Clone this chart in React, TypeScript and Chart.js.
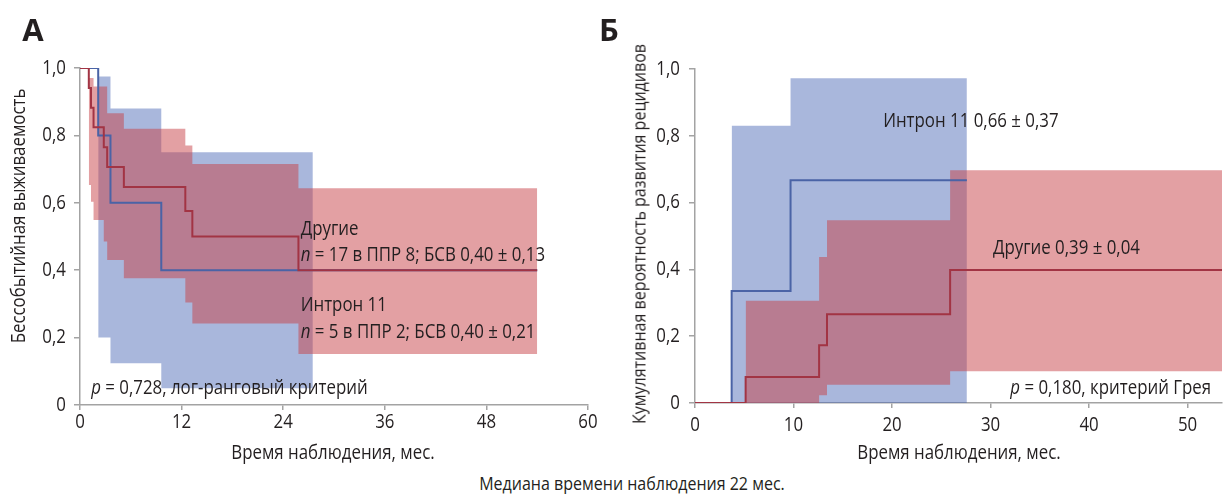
import React, { useEffect, useRef } from "react";
import { Chart, registerables } from "chart.js";

Chart.register(...registerables);

// ---------- Panel A: event-free survival (Kaplan–Meier) ----------
const aIntronTime = [0, 2.15, 3.6, 9.6, 54];
const aIntronSurv = [1, 0.8, 0.6, 0.4, 0.4];
const aIntronBandTime = [2.15, 3.6, 9.6, 27.5];
const aIntronBandUpper = [0.975, 0.88, 0.75, 0.75];
const aIntronBandLower = [0.2, 0.124, 0.05, 0.05];

const aOtherTime = [0, 1.04, 1.3, 1.6, 2.81, 3.21, 5.18, 12.44, 13.27, 25.8, 54];
const aOtherSurv = [1, 0.941, 0.882, 0.824, 0.765, 0.706, 0.647, 0.576, 0.5, 0.4, 0.4];
const aOtherBandTime = [1.04, 1.3, 1.6, 2.81, 3.21, 5.18, 12.44, 13.27, 25.8, 54];
const aOtherBandUpper = [0.97, 0.97, 0.945, 0.945, 0.866, 0.82, 0.77, 0.715, 0.643, 0.643];
const aOtherBandLower = [0.653, 0.603, 0.549, 0.485, 0.43, 0.376, 0.304, 0.242, 0.151, 0.151];

const aXTicks = [0, 12, 24, 36, 48, 60];

// ---------- Panel B: cumulative incidence of relapse ----------
const bIntronTime = [0, 3.72, 9.7, 27.6];
const bIntronInc = [0, 0.335, 0.667, 0.667];
const bIntronBandTime = [3.72, 9.7, 27.6];
const bIntronBandUpper = [0.83, 0.972, 0.972];
const bIntronBandLower = [0, 0, 0];

const bOtherTime = [0, 5.14, 12.6, 13.4, 25.9, 53.5];
const bOtherInc = [0, 0.078, 0.173, 0.266, 0.398, 0.398];
const bOtherBandTime = [5.14, 12.6, 13.4, 25.9, 53.5];
const bOtherBandUpper = [0.306, 0.437, 0.547, 0.697, 0.697];
const bOtherBandLower = [0, 0.023, 0.055, 0.095, 0.095];

const bXTicks = [0, 10, 20, 30, 40, 50];
const yTicks = [0, 0.2, 0.4, 0.6, 0.8, 1.0];

// ---------- styles ----------
const FONT = "'Open Sans', 'Noto Sans', 'DejaVu Sans', sans-serif";
const FS = 20;
const TFS = 20;
const TEXT = "#231f20";
const AXIS = "#a3a3a3";
const BLUE_LINE = "#4a63a6";
const RED_LINE = "#a23444";
const BLUE_FILL = "rgba(75,105,182,0.48)";
const RED_FILL = "rgba(200,65,72,0.5)";

// horizontal compression to imitate the condensed face of the original
function calibrate(): number {
  try {
    const c = document.createElement("canvas").getContext("2d");
    if (!c) return 0.78;
    c.font = `${FS}px ${FONT}`;
    const w = c.measureText("n = 17 в ППР 8; БСВ 0,40 ± 0,13").width;
    return w > 0 ? 245 / w : 0.78;
  } catch {
    return 0.78;
  }
}
const SX = calibrate();

type Run = { text: string; italic?: boolean };
type Note = { x: number; y: number; runs: Run[]; align?: "left" | "right" };

const pts = (xs: number[], ys: number[]) => xs.map((x, i) => ({ x, y: ys[i] }));

const fmtY = (v: number) => (Math.abs(v) < 1e-9 ? "0" : (Math.round(v * 10) / 10).toFixed(1).replace(".", ","));

function drawScaled(ctx: CanvasRenderingContext2D, text: string, x: number, y: number, align: CanvasTextAlign) {
  ctx.save();
  ctx.translate(x, y);
  ctx.scale(SX, 1);
  ctx.textAlign = align;
  ctx.fillText(text, 0, 0);
  ctx.restore();
}

function notesPlugin(items: Note[]) {
  return {
    id: "notes",
    afterDatasetsDraw(chart: any) {
      const { ctx } = chart;
      const xs = chart.scales.x;
      const ys = chart.scales.y;
      ctx.save();
      ctx.fillStyle = TEXT;
      ctx.textBaseline = "middle";
      for (const n of items) {
        let px = xs.getPixelForValue(n.x);
        const py = ys.getPixelForValue(n.y);
        const widths = n.runs.map((r) => {
          ctx.font = `${r.italic ? "italic " : ""}${FS}px ${FONT}`;
          return ctx.measureText(r.text).width * SX;
        });
        const total = widths.reduce((a, b) => a + b, 0);
        if (n.align === "right") px -= total;
        n.runs.forEach((r, i) => {
          ctx.font = `${r.italic ? "italic " : ""}${FS}px ${FONT}`;
          drawScaled(ctx, r.text, px, py, "left");
          px += widths[i];
        });
      }
      ctx.restore();
    },
  };
}

function tickLabelsPlugin(xLabelOffset: number, yLabelGap: number) {
  return {
    id: "tickLabels",
    afterDraw(chart: any) {
      const { ctx } = chart;
      const xs = chart.scales.x;
      const ys = chart.scales.y;
      ctx.save();
      ctx.fillStyle = TEXT;
      ctx.font = `${TFS}px ${FONT}`;
      ctx.textBaseline = "middle";
      for (const t of xs.ticks) {
        drawScaled(ctx, String(t.value), xs.getPixelForValue(t.value), ys.bottom + xLabelOffset, "center");
      }
      for (const t of ys.ticks) {
        drawScaled(ctx, fmtY(t.value), xs.left - yLabelGap, ys.getPixelForValue(t.value), "right");
      }
      ctx.restore();
    },
  };
}

function bandSets(t: number[], up: number[], lo: number[], color: string, lowerIndex: number, order: number) {
  return [
    {
      data: pts(t, up),
      stepped: "before",
      borderWidth: 0,
      borderColor: "transparent",
      backgroundColor: color,
      pointRadius: 0,
      fill: lowerIndex,
      order,
    },
    {
      data: pts(t, lo),
      stepped: "before",
      borderWidth: 0,
      borderColor: "transparent",
      backgroundColor: "transparent",
      pointRadius: 0,
      fill: false,
      order,
    },
  ];
}

function lineSet(t: number[], v: number[], color: string, order: number) {
  return {
    data: pts(t, v),
    stepped: "before",
    borderWidth: 2,
    borderColor: color,
    backgroundColor: color,
    pointRadius: 0,
    fill: false,
    order,
  };
}

function makeConfig(opts: {
  datasets: any[];
  xMax: number;
  xTicks: number[];
  yWidth: number;
  xHeight: number;
  padding: { left: number; right: number; top: number; bottom: number };
  notes: Note[];
  xLabelOffset: number;
  yLabelGap: number;
}) {
  return {
    type: "line",
    data: { datasets: opts.datasets },
    options: {
      animation: false,
      responsive: false,
      devicePixelRatio: 1,
      layout: { padding: opts.padding },
      plugins: { legend: { display: false }, tooltip: { enabled: false }, title: { display: false } },
      scales: {
        x: {
          type: "linear",
          min: 0,
          max: opts.xMax,
          afterBuildTicks: (s: any) => {
            s.ticks = opts.xTicks.map((v) => ({ value: v }));
          },
          afterFit: (s: any) => {
            s.height = opts.xHeight;
          },
          ticks: { display: false },
          grid: { display: true, drawOnChartArea: false, drawTicks: true, tickLength: 5, color: AXIS, lineWidth: 1.5 },
          border: { display: true, color: AXIS, width: 1.5 },
        },
        y: {
          type: "linear",
          min: 0,
          max: 1,
          afterBuildTicks: (s: any) => {
            s.ticks = yTicks.map((v) => ({ value: v }));
          },
          afterFit: (s: any) => {
            s.width = opts.yWidth;
          },
          ticks: { display: false },
          grid: { display: true, drawOnChartArea: false, drawTicks: true, tickLength: 6, color: AXIS, lineWidth: 1.5 },
          border: { display: true, color: AXIS, width: 1.5 },
        },
      },
    },
    plugins: [notesPlugin(opts.notes), tickLabelsPlugin(opts.xLabelOffset, opts.yLabelGap)],
  };
}

const aNotes: Note[] = [
  { x: 26.07, y: 0.522, runs: [{ text: "Другие" }] },
  { x: 26.07, y: 0.445, runs: [{ text: "n", italic: true }, { text: " = 17 в ППР 8; БСВ 0,40 ± 0,13" }] },
  { x: 26.07, y: 0.297, runs: [{ text: "Интрон 11" }] },
  { x: 26.07, y: 0.217, runs: [{ text: "n", italic: true }, { text: " = 5 в ППР 2; БСВ 0,40 ± 0,21" }] },
  { x: 1.32, y: 0.05, runs: [{ text: "p", italic: true }, { text: " = 0,728, лог-ранговый критерий" }] },
];

const bNotes: Note[] = [
  { x: 19.1, y: 0.844, runs: [{ text: "Интрон 11 0,66 ± 0,37" }] },
  { x: 30.25, y: 0.464, runs: [{ text: "Другие 0,39 ± 0,04" }] },
  { x: 52.4, y: 0.044, align: "right", runs: [{ text: "p", italic: true }, { text: " = 0,180, критерий Грея" }] },
];

function ChartCanvas({ config, left, width, height }: { config: any; left: number; width: number; height: number }) {
  const ref = useRef<HTMLCanvasElement | null>(null);
  useEffect(() => {
    if (!ref.current) return;
    const chart = new Chart(ref.current, config);
    return () => chart.destroy();
  }, []);
  return (
    <canvas
      ref={ref}
      width={width}
      height={height}
      style={{ position: "absolute", left, top: 0, width, height }}
    />
  );
}

const labelStyle = (cx: number, cy: number, extra: any = {}): React.CSSProperties => ({
  position: "absolute",
  left: cx,
  top: cy,
  transform: `translate(-50%, -50%) scaleX(${SX})`,
  whiteSpace: "nowrap",
  fontFamily: FONT,
  fontSize: FS,
  lineHeight: 1,
  color: TEXT,
  ...extra,
});

const letterStyle = (cx: number, cy: number): React.CSSProperties => ({
  position: "absolute",
  left: cx,
  top: cy,
  transform: "translate(-50%, -50%)",
  whiteSpace: "nowrap",
  fontFamily: "'Open Sans', 'Liberation Sans', sans-serif",
  fontWeight: 700,
  fontSize: 31,
  lineHeight: 1,
  color: TEXT,
});

export default function App() {
  const configA = makeConfig({
    datasets: [
      lineSet(aOtherTime, aOtherSurv, RED_LINE, 1),
      lineSet(aIntronTime, aIntronSurv, BLUE_LINE, 2),
      ...bandSets(aOtherBandTime, aOtherBandUpper, aOtherBandLower, RED_FILL, 3, 3),
      ...bandSets(aIntronBandTime, aIntronBandUpper, aIntronBandLower, BLUE_FILL, 5, 4),
    ],
    xMax: 60,
    xTicks: aXTicks,
    yWidth: 80,
    xHeight: 35,
    padding: { left: 0, right: 12, top: 68, bottom: 0 },
    notes: aNotes,
    xLabelOffset: 17,
    yLabelGap: 14,
  });
  const configB = makeConfig({
    datasets: [
      lineSet(bOtherTime, bOtherInc, RED_LINE, 1),
      lineSet(bIntronTime, bIntronInc, BLUE_LINE, 2),
      ...bandSets(bOtherBandTime, bOtherBandUpper, bOtherBandLower, RED_FILL, 3, 3),
      ...bandSets(bIntronBandTime, bIntronBandUpper, bIntronBandLower, BLUE_FILL, 5, 4),
    ],
    xMax: 53.5,
    xTicks: bXTicks,
    yWidth: 95,
    xHeight: 37,
    padding: { left: 0, right: 2, top: 69, bottom: 0 },
    notes: bNotes,
    xLabelOffset: 22,
    yLabelGap: 15,
  });

  return (
    <div style={{ position: "fixed", left: 0, top: 0, width: 1224, height: 495, background: "#fff", overflow: "hidden" }}>
      <ChartCanvas config={configA} left={0} width={600} height={440} />
      <ChartCanvas config={configB} left={600} width={624} height={440} />
      <div style={letterStyle(33, 29)}>А</div>
      <div style={letterStyle(609, 29)}>Б</div>
      <div style={labelStyle(18, 216, { transform: `translate(-50%, -50%) rotate(-90deg) scaleX(${SX})` })}>Бессобытийная выживаемость</div>
      <div style={labelStyle(639, 234, { fontSize: 19, transform: `translate(-50%, -50%) rotate(-90deg) scaleX(${SX})` })}>Кумулятивная вероятность развития рецидивов</div>
      <div style={labelStyle(333, 452)}>Время наблюдения, мес.</div>
      <div style={labelStyle(959, 452)}>Время наблюдения, мес.</div>
      <div style={labelStyle(632, 483, { fontSize: 19 })}>Медиана времени наблюдения 22 мес.</div>
    </div>
  );
}
